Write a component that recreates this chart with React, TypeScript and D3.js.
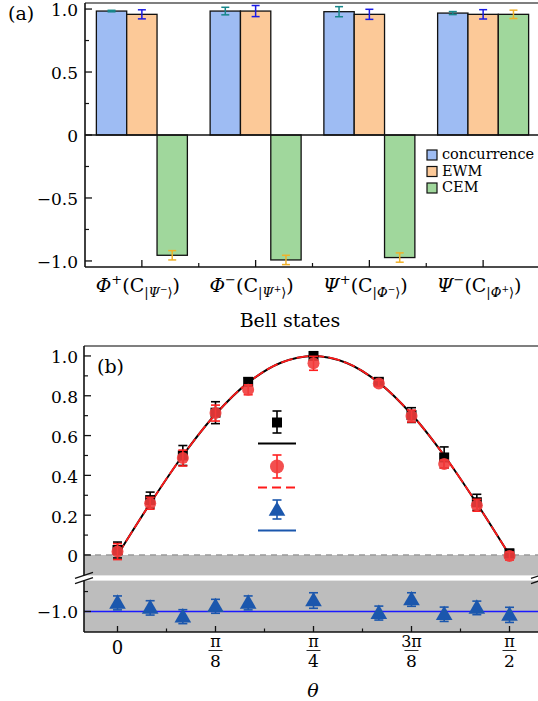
import React from "react"
import * as d3 from "d3"

// ---- panel (a) data ----
const categories = ["Φ+", "Φ−", "Ψ+", "Ψ−"]
const catMain = ["Φ", "Φ", "Ψ", "Ψ"]
const catSup = ["+", "−", "+", "−"]
const catSubMain = ["Ψ", "Ψ", "Φ", "Φ"]
const catSubSup = ["−", "+", "−", "+"]
const seriesNames = ["concurrence", "EWM", "CEM"]
const concurrence = [0.984, 0.984, 0.979, 0.968]
const concurrenceErr = [0.006, 0.03, 0.04, 0.012]
const ewm = [0.958, 0.984, 0.958, 0.958]
const ewmErr = [0.036, 0.044, 0.04, 0.037]
const cem = [-0.955, -0.992, -0.973, 0.958]
const cemErr = [0.037, 0.037, 0.037, 0.033]
const yTicksA = [-1, -0.5, 0, 0.5, 1]
const yTickLabelsA = ["−1.0", "−0.5", "0", "0.5", "1.0"]
const yMinorA = [-0.75, -0.25, 0.25, 0.75]

// ---- panel (b) data ----
const thetaPts = [0, 1, 2, 3, 4, 6, 8, 9, 10, 11, 12].map(k => (k * Math.PI) / 24)
const concB = [0.025, 0.276, 0.5, 0.715, 0.87, 1.0, 0.87, 0.703, 0.49, 0.265, 0.008]
const concBErr = [0.04, 0.04, 0.05, 0.055, 0.02, 0.015, 0.015, 0.037, 0.053, 0.04, 0.02]
const ewmB = [0.017, 0.26, 0.487, 0.713, 0.83, 0.963, 0.862, 0.698, 0.457, 0.25, -0.005]
const ewmBErr = [0.04, 0.03, 0.04, 0.04, 0.025, 0.035, 0.015, 0.03, 0.02, 0.03, 0.02]
const cemB = [-0.957, -0.982, -1.026, -0.974, -0.957, -0.945, -1.008, -0.94, -1.014, -0.982, -1.017]
const cemBErr = [0.035, 0.036, 0.035, 0.035, 0.035, 0.039, 0.035, 0.034, 0.036, 0.034, 0.038]
const theoryTheta = [0, 1, 2, 3, 4, 5, 6, 7, 8, 9, 10, 11, 12].map(k => (k * Math.PI) / 24)
const theoryC = [0, 0.259, 0.5, 0.707, 0.866, 0.966, 1, 0.966, 0.866, 0.707, 0.5, 0.259, 0]
const cemTheory = -1
const xTicksB = [0, 1, 2, 3, 4].map(k => (k * Math.PI) / 8)
const xTickNum = ["0", "π", "π", "3π", "π"]
const xTickDen = ["", "8", "4", "8", "2"]
const xMinorB = [1, 3, 5, 7].map(k => (k * Math.PI) / 16)
const yTicksB = [0, 0.2, 0.4, 0.6, 0.8, 1.0]
const yTickLabelsB = ["0", "0.2", "0.4", "0.6", "0.8", "1.0"]
const yMinorB = [0.1, 0.3, 0.5, 0.7, 0.9]

const FONT = "DejaVu Serif"
const colors = ["#9ebcf3", "#fcc998", "#a0d79c"]
const errColors = ["#17878a", "#1a1ae6", "#f0b12a"]
const triBlue = "#1b57ad"

const ErrBar = ({ x, y1, y2, color, w = 9, sw = 1.6 }: any) => (
  <g stroke={color} strokeWidth={sw}>
    <line x1={x} x2={x} y1={y1} y2={y2} />
    <line x1={x - w / 2} x2={x + w / 2} y1={y1} y2={y1} />
    <line x1={x - w / 2} x2={x + w / 2} y1={y2} y2={y2} />
  </g>
)

const PanelA = () => {
  const left = 85, right = 540, top = 3, bottom = 267
  const x = d3.scaleBand().domain(categories).range([left, right]).paddingInner(0.2).paddingOuter(0.1)
  const x1 = d3.scaleBand().domain(seriesNames).range([0, x.bandwidth()])
  const y = d3.scaleLinear().domain([-1.048, 1.048]).range([bottom, top])
  const values = [concurrence, ewm, cem]
  const errs = [concurrenceErr, ewmErr, cemErr]
  const centers = categories.map(c => (x(c) as number) + x.bandwidth() / 2)
  const minorX = centers.slice(0, -1).map(c => c + x.step() / 2)

  return (
    <g fontFamily={FONT}>
      {/* bars */}
      {categories.map((c, i) => (
        <g key={c}>
          {seriesNames.map((s, j) => {
            const v = values[j][i]
            const bx = (x(c) as number) + (x1(s) as number)
            return (
              <rect key={s} x={bx} width={x1.bandwidth()} y={Math.min(y(v), y(0))}
                height={Math.abs(y(v) - y(0))} fill={colors[j]} stroke="#111" strokeWidth={1.3} />
            )
          })}
        </g>
      ))}
      {categories.map((c, i) => (
        <g key={c + "e"}>
          {seriesNames.map((s, j) => {
            const v = values[j][i]
            const e = errs[j][i]
            const cx = (x(c) as number) + (x1(s) as number) + x1.bandwidth() / 2
            return <ErrBar key={s} x={cx} y1={y(v + e)} y2={y(v - e)} color={errColors[j]} w={8} sw={1.5} />
          })}
        </g>
      ))}
      {/* zero line */}
      <line x1={left} x2={right} y1={y(0)} y2={y(0)} stroke="#111" strokeWidth={1.3} />
      {/* frame */}
      <line x1={left} x2={right} y1={top} y2={top} stroke="#555" strokeWidth={1.6} />
      <line x1={left} x2={left} y1={top} y2={bottom} stroke="#111" strokeWidth={1.6} />
      <line x1={left} x2={right} y1={bottom} y2={bottom} stroke="#111" strokeWidth={1.6} />
      {/* y ticks */}
      {yTicksA.map((t, i) => (
        <g key={t}>
          <line x1={left} x2={left + 7} y1={y(t)} y2={y(t)} stroke="#111" strokeWidth={1.3} />
          <text x={78} y={y(t) + 7} textAnchor="end" fontSize={17}>{yTickLabelsA[i]}</text>
        </g>
      ))}
      {yMinorA.map(t => (
        <line key={t} x1={left} x2={left + 4} y1={y(t)} y2={y(t)} stroke="#111" strokeWidth={1.2} />
      ))}
      {/* x ticks */}
      {centers.map((cx, i) => (
        <g key={i}>
          <line x1={cx} x2={cx} y1={bottom} y2={bottom - 7} stroke="#111" strokeWidth={1.3} />
          <text x={cx - 4} y={292} textAnchor="middle" fontSize={19}>
            <tspan fontStyle="italic">{catMain[i]}</tspan>
            <tspan fontSize={13} dy={-8}>{catSup[i]}</tspan>
            <tspan dy={8}>(C</tspan>
            <tspan fontSize={13} dy={5}>|</tspan>
            <tspan fontSize={13} fontStyle="italic">{catSubMain[i]}</tspan>
            <tspan fontSize={9} dy={-5}>{catSubSup[i]}</tspan>
            <tspan fontSize={13} dy={5}>⟩</tspan>
            <tspan dy={-5}>)</tspan>
          </text>
        </g>
      ))}
      {minorX.map(mx => (
        <line key={mx} x1={mx} x2={mx} y1={bottom} y2={bottom - 4} stroke="#111" strokeWidth={1.2} />
      ))}
      <text x={290} y={327} textAnchor="middle" fontSize={19}>Bell states</text>
      <text x={8} y={20} fontSize={19}>(a)</text>
      {/* legend */}
      {seriesNames.map((s, j) => (
        <g key={s}>
          <rect x={427} y={150 + j * 16.5} width={10} height={10} fill={colors[j]} stroke="#111" strokeWidth={1.2} />
          <text x={442} y={159 + j * 16.5} fontSize={14.5}>{s}</text>
        </g>
      ))}
    </g>
  )
}

const PanelB = () => {
  const left = 84, right = 545, top = 346, bottom = 632
  const gapTop = 575.4, gapBot = 580.6
  const x = d3.scaleLinear().domain([0, Math.PI / 2]).range([117.5, 509.5])
  const yU = d3.scaleLinear().domain([-0.1025, 1.05]).range([gapTop, top])
  const yL = d3.scaleLinear().domain([-1.103, -0.845]).range([bottom, gapBot])

  const line = d3.line<number>().x((_, i) => x(theoryTheta[i])).y(d => yU(d)).curve(d3.curveCatmullRom)
  const curvePath = line(theoryC) as string
  const tri = d3.symbol().type(d3.symbolTriangle).size(120)()
  const sq = d3.symbol().type(d3.symbolSquare).size(100)()

  return (
    <g fontFamily={FONT}>
      {/* gray negative region */}
      <rect x={left} y={yU(0)} width={right - left} height={gapTop - yU(0)} fill="#bdbdbd" />
      <rect x={left} y={gapBot} width={right - left} height={bottom - gapBot} fill="#bdbdbd" />
      <line x1={left} x2={right} y1={yU(0)} y2={yU(0)} stroke="#999" strokeWidth={1.3} strokeDasharray="6 5" />
      {/* CEM theory line */}
      <line x1={left} x2={right} y1={yL(cemTheory)} y2={yL(cemTheory)} stroke="#1a1aff" strokeWidth={1.5} />
      {/* theory curves */}
      <path d={curvePath} fill="none" stroke="#000" strokeWidth={2} />
      <path d={curvePath} fill="none" stroke="#ff1a1a" strokeWidth={1.8} strokeDasharray="12 4" />
      {/* concurrence squares */}
      {thetaPts.map((t, i) => (
        <g key={"c" + i}>
          <ErrBar x={x(t)} y1={yU(concB[i] + concBErr[i])} y2={yU(concB[i] - concBErr[i])} color="#000" w={9} sw={1.6} />
          <path d={sq} transform={`translate(${x(t)},${yU(concB[i])})`} fill="#000" />
        </g>
      ))}
      {/* EWM circles */}
      {thetaPts.map((t, i) => (
        <g key={"e" + i}>
          <ErrBar x={x(t)} y1={yU(ewmB[i] + ewmBErr[i])} y2={yU(ewmB[i] - ewmBErr[i])} color="#ff2020" w={9} sw={1.6} />
          <circle cx={x(t)} cy={yU(ewmB[i])} r={6} fill="#f23c3c" fillOpacity={0.9} />
        </g>
      ))}
      {/* CEM triangles */}
      {thetaPts.map((t, i) => (
        <g key={"t" + i}>
          <ErrBar x={x(t)} y1={yL(cemB[i] + cemBErr[i])} y2={yL(cemB[i] - cemBErr[i])} color={triBlue} w={9} sw={1.6} />
          <path d={tri} transform={`translate(${x(t)},${yL(cemB[i]) + 1})`} fill={triBlue} />
        </g>
      ))}
      {/* frame */}
      <line x1={left} x2={right} y1={top} y2={top} stroke="#555" strokeWidth={1.6} />
      <line x1={left} x2={left} y1={top} y2={gapTop} stroke="#111" strokeWidth={1.6} />
      <line x1={left} x2={left} y1={gapBot} y2={bottom} stroke="#111" strokeWidth={1.6} />
      <line x1={left} x2={right} y1={bottom} y2={bottom} stroke="#111" strokeWidth={1.6} />
      {/* break marks */}
      {[left, 540].map(bx => (
        <g key={bx} stroke="#111" strokeWidth={1.3}>
          <line x1={bx - 9} x2={bx + 9} y1={gapTop + 3} y2={gapTop - 3} />
          <line x1={bx - 9} x2={bx + 9} y1={gapBot + 3} y2={gapBot - 3} />
        </g>
      ))}
      {/* y ticks */}
      {yTicksB.map((t, i) => (
        <g key={t}>
          <line x1={left} x2={left + 7} y1={yU(t)} y2={yU(t)} stroke="#111" strokeWidth={1.3} />
          <text x={78} y={yU(t) + 7.5} textAnchor="end" fontSize={17}>{yTickLabelsB[i]}</text>
        </g>
      ))}
      {yMinorB.map(t => (
        <line key={t} x1={left} x2={left + 4} y1={yU(t)} y2={yU(t)} stroke="#111" strokeWidth={1.2} />
      ))}
      <line x1={left} x2={left + 7} y1={yL(-1)} y2={yL(-1)} stroke="#111" strokeWidth={1.3} />
      <text x={78} y={yL(-1) + 7} textAnchor="end" fontSize={17}>−1.0</text>
      <line x1={left} x2={left + 4} y1={yL(-0.9)} y2={yL(-0.9)} stroke="#111" strokeWidth={1.2} />
      {/* x ticks */}
      {xTicksB.map((t, i) => (
        <g key={t}>
          <line x1={x(t)} x2={x(t)} y1={bottom} y2={bottom - 6} stroke="#111" strokeWidth={1.3} />
          {xTickDen[i] === "" ? (
            <text x={x(t)} y={654} textAnchor="middle" fontSize={18}>{xTickNum[i]}</text>
          ) : (
            <g>
              <text x={x(t)} y={647} textAnchor="middle" fontSize={16}>{xTickNum[i]}</text>
              <line x1={x(t) - 7} x2={x(t) + 7} y1={650.5} y2={650.5} stroke="#111" strokeWidth={0.9} />
              <text x={x(t)} y={667} textAnchor="middle" fontSize={17}>{xTickDen[i]}</text>
            </g>
          )}
        </g>
      ))}
      {xMinorB.map(t => (
        <line key={t} x1={x(t)} x2={x(t)} y1={bottom} y2={bottom - 3.5} stroke="#111" strokeWidth={1.2} />
      ))}
      <text x={313} y={697} textAnchor="middle" fontSize={19} fontStyle="italic">θ</text>
      <text x={97} y={373} fontSize={19}>(b)</text>
      {/* legend (symbols only) */}
      <ErrBar x={277} y1={411} y2={433} color="#000" w={9} sw={1.6} />
      <path d={sq} transform="translate(277,422.5)" fill="#000" />
      <line x1={258} x2={296} y1={443.5} y2={443.5} stroke="#000" strokeWidth={2} />
      <ErrBar x={277} y1={455} y2={478} color="#ff2020" w={9} sw={1.6} />
      <circle cx={277} cy={466.5} r={7} fill="#f23c3c" fillOpacity={0.9} />
      <line x1={258} x2={296} y1={487.5} y2={487.5} stroke="#ff1a1a" strokeWidth={2} strokeDasharray="9 5" />
      <ErrBar x={277} y1={500} y2={519} color={triBlue} w={9} sw={1.6} />
      <path d={tri} transform="translate(277,511)" fill={triBlue} />
      <line x1={258} x2={296} y1={530.5} y2={530.5} stroke={triBlue} strokeWidth={2} />
    </g>
  )
}

export default function App() {
  return (
    <svg width={538} height={701} style={{ position: "absolute", left: 0, top: 0, background: "#fff" }}>
      <rect width={538} height={701} fill="#fff" />
      <PanelA />
      <PanelB />
    </svg>
  )
}
